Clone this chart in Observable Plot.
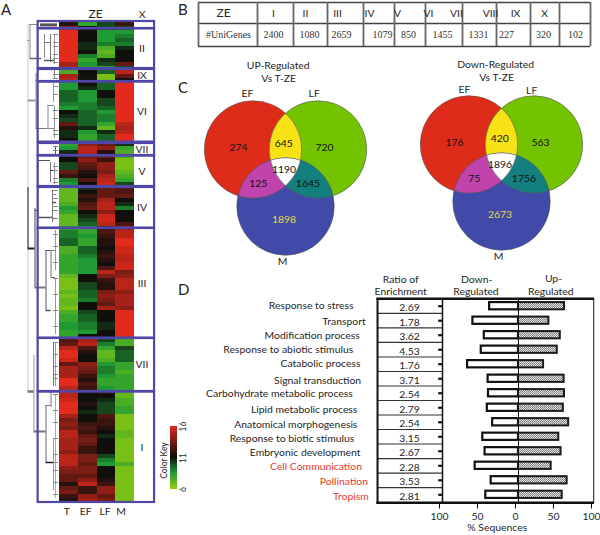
<!DOCTYPE html>
<html><head><meta charset="utf-8">
<script src="https://cdn.jsdelivr.net/npm/d3@7"></script>
<script src="https://cdn.jsdelivr.net/npm/@observablehq/plot@0.6"></script>
<style>
html,body{margin:0;padding:0;background:#fff}
#fig{position:relative;width:600px;height:535px;overflow:hidden;font-family:Lato,sans-serif}
#fig svg.plot,#fig figure{position:absolute;margin:0}
.letter{position:absolute;font-size:15px;color:#222;line-height:16px}
</style></head><body>
<svg width="0" height="0" style="position:absolute"><defs>
<pattern id="hatch" width="2" height="2" patternUnits="userSpaceOnUse">
<rect width="2" height="2" fill="#e4e4e4"/><rect width="1" height="1" fill="#777"/><rect x="1" y="1" width="1" height="1" fill="#888"/>
</pattern></defs></svg>
<div id="fig"></div>
<script>
// ---------- A: heat map (log2 expression, one value per row)
const heatColumns = ["T","EF","LF","M"];
const heatT = [11.5,14,16,16,16,16,16,16,16,16,14.5,15,7.5,14.5,15,
 8.5,8.5,9.5,9.5,9.5,9,8.5,11,10.5,10,13,11.5,10.5,10.5,11,
 8,8.5,10.5,11,11,10,10,13,12,9,8.5,
 7,7,7,7,7.5,8.5,8,7,7,7,
 8,9,9,9.5,9.5,7.5,7.5,8,8,8,8,8,7,6.5,6.5,6.5,7,6.5,7,7,6.5,7.5,8,8,8.5,8.5,8,8,
 12.5,13,15,16,16,15.5,13,14.5,14.5,14.5,16,16,15,
 15,15,15.5,16,16,16,14.5,13.5,14,13.5,15,15,14.5,14.5,14.5,14,15,15,15,14,13.5,13,13,11.5,13,13.5,12,11.5];
const heatEF = [8,11,11,11,11,10.5,10.5,11,9,8,8.5,8,11,11,11,
 11,10.5,8.5,8.5,8.5,9,9,9.5,9.5,9.5,9.5,10.5,8.5,8,8,
 14,15,15,13,14,13,12.5,11.5,11,12.5,11,
 10.5,11,12,11.5,12.5,13,11,10.5,10,9.5,
 8,8,8.5,8,8,9.5,9.5,9,8.5,8.5,8.5,8.5,11,11,10,10,9.5,9.5,9,11,11,10,9.5,9.5,9,9,8.5,11,
 14.5,15,12.5,11.5,11,11,14,13.5,13,12,11.5,12.5,12,
 11,11,11,11.5,11,10.5,11,11,12,12.5,12,13,13.5,13,12,12,13.5,13.5,13,13.5,13.5,13,14,15,12,12,14,14.5];
const heatLF = [10,10,8.5,8.5,8.5,9,7.5,7,7.5,10.5,10,8,9.5,6.5,6.5,
 9.5,9.5,11,11,10,10,9.5,8.5,9,9,8,7,10.5,9.5,9.5,
 13,14,11.5,13,12,14,14,13.5,14.5,15,15.5,
 13,13,13,14.5,15,15,14,15.5,15.5,15,
 12,12.5,12,11.5,11.5,11,11.5,12,11.5,11,12.5,15,13.5,12,11.5,11.5,13.5,14,13.5,13,14.5,11,11,11,10.5,10.5,11,11,
 10,9,8,7,7,7.5,8.5,9,9,8.5,8,8,8.5,
 11.5,11,10.5,10,10,10,12.5,12,12,11.5,11,10.5,11,11,11,11,10,9,8.5,11,11,11,11.5,12,14,14,13,13.5];
const heatM = [12,10,8.5,9,9.5,9,10.5,11,11,11,13,10,15,13,11,
 16,16,16,16,16,16,16,16,16,16,15,14.5,15,16,16,
 10.5,8,7.5,7.5,6.5,6.5,6.5,7,7.5,8,10,
 12.5,12.5,13,11,10.5,9,11,11,11,12.5,
 14,15,15,16,16,15.5,15.5,15,15,15.5,15.5,13.5,14,15,15,15,14,14.5,14.5,14.5,14,16,16,16,16,16,16,16,
 7.5,7.5,10,9.5,9.5,9.5,8,8,7.5,8,8,8,8,
 7,7,7.5,7.5,8,8,6.5,6.5,6.5,6.5,7,7,6.5,6.5,6.5,6.5,6.5,6.5,7.5,6.5,6.5,6.5,6.5,6.5,6.5,6.5,6.5,6.5];
const clusterNames = ["","II","IX","VI","VII","V","IV","III","VII","I"];
const clusterTop = [-0.25,1.6,11.75,14.9,30.25,33.4,41.25,51.5,79,92.4];
const clusterBottom = [1.5,11.5,14.75,29.9,33.25,41,51.4,78.9,92.25,120];
// dendrogram: [merge height, first row, last row, shade]
const dendroJoins = [[31.5,0.5,92.25,"#ccc"],[31.5,41.25,56.5,"#222"],[29.5,0.5,9,"#888"],[23.5,12.75,26.5,"#888"],
 [11.5,20.75,26.5,"#888"],[24.5,46.5,66.25,"#444"],[13.5,57,72,"#555"],[8.5,57,63.75,"#777"],[25.5,83.25,102.25,"#999"],
 [13.5,95.75,110,"#666"],[8.5,92.5,96.25,"#777"],[21.5,34.5,48.75,"#666"],[15,3,9,"#888"],[9,3,10,"#777"],[5,3,10.5,"#999"],
 [5,12,14,"#888"],[6,15,20,"#999"],[5,21,29,"#999"],[4,31,33,"#555"],[9,35,40,"#777"],[5,35,40.5,"#999"],[7,42,50,"#777"],
 [4,52,62,"#999"],[4,64,78,"#999"],[6,80,91,"#777"],[4,80,91,"#999"],[4,93,119,"#aaa"],[6,104,117,"#999"]];
// dendrogram branches: [height from, height to, row, shade, weight]
const dendroBranches = [[31.5,29.5,4.5,"#888",1],[29.5,21,0.5,"#888",1],[29.5,18,9,"#666",1.5],[31.5,23.5,19.5,"#999",2],
 [23.5,13,14.5,"#777",1],[23.5,11.5,26.5,"#777",1],[11.5,5,20.75,"#888",1],[11.5,5,26.5,"#888",1],[31.5,24.5,56.5,"#222",2],
 [24.5,21.5,47,"#555",1],[24.5,13.5,66.25,"#777",2],[13.5,8.5,57,"#555",1],[13.5,8.5,72,"#555",1.5],[8.5,4,57,"#777",1],[8.5,4,63.75,"#777",1],
 [31.5,25.5,92.25,"#777",2.5],[25.5,13.5,102.25,"#777",2],[13.5,8.5,95.75,"#777",1],[13.5,6,110,"#222",1.5],[21.5,9,34.5,"#555",1],[21.5,7,48.75,"#555",1.5],
 [15,9,5,"#777",1],[15,5,9.5,"#555",1.5],[7,3,43,"#888",1],[9,5,37,"#333",1],[7,3,45,"#555",1.5],[7,3,49,"#888",1.5],[19,2,0.6,"#555",3]];
const dendroLeaves = [3,5,6,8,9,10,13,14,16,18,22,24,27,28,31,32,33,36,37,39,40,42,44,46,47,49,53,56,60,64,68,72,76,80,83,86,88,89,93,97,100,104,108,110,112,115,118];
const colourDomain = [6,8.5,11,16];
const colourRange = ["#8fca0e","#1f9a35","#100f0c","#e32a1c"];
const colourKeyTicks = [6,11,16];
// ---------- B: table
const tableHeaders = ["ZE","I","II","III","IV","V","VI","VII","VIII","IX","X"];
const tableHeaderX = [223,273,305,337,369,397,428,456,490,515,544];
const uniGenes = ["#UniGenes","2400","1080","2659","1079","850","1455","1331","227","320","102"];
const uniGenesX = [228,273,309,341,382,408,442,478,506,543,575];
const tableEdges = [198,257,293,327,363,394,425,462,496,530,559,590];
// ---------- C: Venn counts, in order EF, EF&LF, LF, all, EF&M, LF&M, M
const vennUp = [274,645,720,1190,125,1645,1898];
const vennDown = [176,420,563,1896,75,1756,2673];
const regionX = [-0.965,-0.035,0.8,-0.03,-0.56,0.46,-0.03];
const regionY = [-0.04,-0.125,-0.035,0.405,0.705,0.705,1.44];
// ---------- D: GO categories
const goTerms = ["Response to stress","Transport","Modification process","Response to abiotic stimulus","Catabolic process","Signal transduction","Carbohydrate metabolic process","Lipid metabolic process","Anatomical morphogenesis","Response to biotic stimulus","Embryonic development","Cell Communication","Pollination","Tropism"];
const goRatio = ["2.69","1.78","3.62","4.53","1.76","3.71","2.54","2.79","2.54","3.15","2.67","2.28","3.53","2.81"];
const goDown = [38,60,45,49,67,40,39.5,41,34,47,44,57,36,43];
const goUp = [60.5,40,55,51,33,60,60.5,59,66,53,56,43,64,57.5];
const goLabelEnd = [-217,-201,-209,-217.5,-208,-207,-218,-212,-212,-216,-208,-206,-198,-197];
const goLabelRow = [-0.05,1.06,2.05,3.01,3.98,5.1,6.05,7.13,8.16,9.13,10.07,11.03,12.09,13.13];
const axisTicks = [-100,-50,0,50,100];

const INK = "#262626", FONT = 'Lato,sans-serif', TXT = 10.4;
const fig = document.getElementById("fig");
function place(svg,left,top){svg.style.position="absolute";svg.style.left=left+"px";svg.style.top=top+"px";svg.style.background="transparent";svg.style.maxWidth="none";fig.appendChild(svg);return svg;}
function letter(t,x,y){const d=document.createElement("div");d.className="letter";d.textContent=t;d.style.left=x+"px";d.style.top=y+"px";fig.appendChild(d);}

// ===== Panel A
const heatSeries = [heatT,heatEF,heatLF,heatM];
const cells = heatSeries.flatMap((s,c)=>s.map((v,r)=>({c,r,v})));
const clusters = clusterNames.map((n,i)=>({n,top:clusterTop[i],bottom:clusterBottom[i]}));
const colLabelAt = [0.39,1.39,2.43,3.29];
const BOX = "#4f47a8";
place(Plot.plot({
  width:195,height:535,margin:0,
  style:{fontFamily:FONT,background:"transparent"},
  x:{domain:[0,4],range:[59,134],axis:null},
  y:{domain:[0,120],range:[22,502],axis:null},
  color:{type:"linear",domain:colourDomain,range:colourRange},
  marks:[
    Plot.rect(cells,{x1:d=>d.c,x2:d=>d.c+1,y1:d=>d.r,y2:d=>d.r+1,fill:"v",shapeRendering:"crispEdges"}),
    Plot.ruleX(dendroJoins,{x:d=>-d[0]/18.75,y1:d=>d[1],y2:d=>d[2],stroke:d=>d[3],strokeWidth:1}),
    Plot.ruleY(dendroBranches,{y:d=>d[2],x1:d=>-d[0]/18.75,x2:d=>-d[1]/18.75,stroke:d=>d[3],strokeWidth:d=>d[4]}),
    Plot.ruleY(dendroLeaves,{y:d=>d,x1:-6/18.75,x2:-1/18.75,stroke:"#888",strokeWidth:1}),
    Plot.rect(clusters,{x1:-1.14,x2:5.07,y1:"top",y2:"bottom",stroke:BOX,fill:"none",strokeWidth:2.2}),
    Plot.text(clusters.filter(d=>d.n),{x:4.4,y:d=>(d.top+d.bottom)/2,text:"n",fontSize:TXT,fill:INK}),
    Plot.text(heatColumns,{x:(d,i)=>colLabelAt[i],y:122.25,text:d=>d,fontSize:TXT,fill:INK}),
    Plot.text(["ZE"],{x:1.92,y:-2,text:d=>d,fontSize:12,fill:INK}),
    Plot.text(["X"],{x:4.4,y:-2,text:d=>d,fontSize:TXT,fill:INK})
  ]
}),0,0);
letter("A",1,1);

// colour key
const keySteps = d3.range(6,16,0.25);
place(Plot.plot({
  width:50,height:85,margin:0,marginRight:23,
  style:{fontFamily:FONT,background:"transparent"},
  x:{domain:[0,1],range:[20,27],axis:null},
  y:{domain:[6,16],range:[74,11]},
  color:{type:"linear",domain:colourDomain,range:colourRange},
  marks:[
    Plot.rect(keySteps,{x1:0,x2:1,y1:d=>d,y2:d=>d+0.25,fill:d=>d,shapeRendering:"crispEdges"}),
    Plot.axisY({anchor:"right",ticks:colourKeyTicks,tickSize:0,tickPadding:8,tickRotate:-90,fontSize:8.5,label:null,fill:INK}),
    Plot.text(["Color Key"],{x:-0.86,y:10.6,text:d=>d,rotate:-90,fontSize:8.5,fill:INK})
  ]
}),150,415);

// ===== Panel B
place(Plot.plot({
  width:405,height:50,margin:0,
  style:{fontFamily:FONT,background:"transparent"},
  x:{domain:[195,600],range:[0,405],axis:null},
  y:{domain:[0,2],range:[2,46],axis:null},
  marks:[
    Plot.ruleY([0,0.955,2],{x1:198,x2:590,stroke:"#444",strokeWidth:1.3}),
    Plot.ruleX(tableEdges,{y1:0,y2:2,stroke:"#666",strokeWidth:1.8}),
    Plot.text(tableHeaders,{x:(d,i)=>tableHeaderX[i],y:0.486,text:d=>d,fontSize:(d,i)=>i?10.4:12,fill:INK}),
    Plot.text(uniGenes,{x:(d,i)=>uniGenesX[i],y:1.47,text:d=>d,fontSize:10,fill:"#333",fontFamily:'"Liberation Serif",serif'})
  ]
}),195,0);
letter("B",178,1);

// ===== Panel C
const R=48.7, circles={EF:[-0.667,0],LF:[0.667,0],M:[0,1.17]};
function lens(names){
  const pts=[];
  const inside=(p,n)=>Math.hypot(p[0]-circles[n][0],p[1]-circles[n][1])<=1.0005;
  for(const n of names) for(let a=0;a<720;a++){
    const t=a/360*Math.PI,p=[circles[n][0]+Math.cos(t),circles[n][1]+Math.sin(t)];
    if(names.every(m=>inside(p,m))) pts.push(p);
  }
  return d3.polygonHull(pts);
}
function venn(title,counts,titleAt,labelAt,cx,cy){
  const cs=Object.values(circles);
  const lensMark=(names,fill)=>Plot.line(lens(names),{x:d=>d[0],y:d=>d[1],fill,stroke:"none",curve:"linear-closed"});
  const dot=(n,fill)=>Plot.dot([circles[n]],{x:d=>d[0],y:d=>d[1],r:R,fill,stroke:"none"});
  return place(Plot.plot({
    width:200,height:224,margin:0,
    style:{fontFamily:FONT,background:"transparent"},
    x:{domain:[-100/R,100/R],range:[0,200],axis:null},
    y:{domain:[-94/R,130/R],range:[0,224],axis:null},
    marks:[
      dot("EF","#de2c1b"),dot("LF","#74c300"),dot("M","#414aa8"),
      lensMark(["EF","LF"],"#f7e216"),lensMark(["EF","M"],"#c044ac"),lensMark(["LF","M"],"#13807f"),lensMark(["EF","LF","M"],"#ffffff"),
      Plot.dot(cs,{x:d=>d[0],y:d=>d[1],r:R,fill:"none",stroke:"#555",strokeWidth:0.6}),
      Plot.text(counts,{x:(d,i)=>regionX[i],y:(d,i)=>regionY[i],text:d=>String(d),fontSize:TXT,fill:(d,i)=>i==6?"#e8d84a":"#111"}),
      Plot.text(title,{x:(d,i)=>titleAt[i][0],y:(d,i)=>titleAt[i][1],text:d=>d,fontSize:TXT,fill:INK}),
      Plot.text(["EF","LF","M"],{x:(d,i)=>labelAt[i][0],y:(d,i)=>labelAt[i][1],text:d=>d,fontSize:TXT,fill:INK})
    ]
  }),cx-100,cy-94);
}
venn(["UP-Regulated","Vs T-ZE"],vennUp,[[-0.15,-1.72],[-0.14,-1.45]],[[-0.78,-1.14],[0.59,-1.14],[-0.06,2.31]],285,149.3);
venn(["Down-Regulated","Vs T-ZE"],vennDown,[[-0.12,-1.64],[-0.1,-1.376]],[[-0.76,-1.13],[0.62,-1.11],[-0.06,2.31]],501,144);
letter("C",178,79);

// ===== Panel D
const go = goTerms.map((t,i)=>({t,i,ratio:goRatio[i],down:goDown[i],up:goUp[i],end:goLabelEnd[i],lab:goLabelRow[i]}));
const headerCols = [["Ratio of",-155,-1.85],["Enrichment",-155,-1],["Down-",-55,-1.8],["Regulated",-56,-1],["Up-",46,-1.9],["Regulated",42.5,-1.03]];
place(Plot.plot({
  width:420,height:270,margin:0,marginBottom:31.5,
  style:{fontFamily:FONT,background:"transparent"},
  x:{domain:[-100,100],range:[262,414]},
  y:{domain:[0,13],range:[40.7,229.3],axis:null},
  marks:[
    Plot.ruleY(d3.range(0,13),{y:d=>d+0.5,x1:-185.5,x2:-100,stroke:"#333",strokeWidth:1.2}),
    Plot.rect(go,{x1:d=>-d.down,x2:0,y1:d=>d.i-0.25,y2:d=>d.i+0.25,fill:"#fff",stroke:"#111",strokeWidth:2.2}),
    Plot.rect(go,{x1:0,x2:"up",y1:d=>d.i-0.25,y2:d=>d.i+0.25,fill:"url(#hatch)",stroke:"#1a1a1a",strokeWidth:2}),
    Plot.ruleX([0],{y1:-0.51,y2:13.55,stroke:"#111",strokeWidth:1}),
    Plot.ruleX([-100],{y1:-0.51,y2:13.55,stroke:"#111",strokeWidth:1.5}),
    Plot.ruleX([-185.5],{y1:-0.51,y2:13.55,stroke:"#111",strokeWidth:2}),
    Plot.ruleX([99],{y1:-0.51,y2:13.55,stroke:"#111",strokeWidth:1}),
    Plot.ruleY([-0.51,13.55],{x1:-186.5,x2:100,stroke:"#111",strokeWidth:2.6}),
    Plot.ruleY(go,{y:"i",x1:-105,x2:-100,stroke:"#111",strokeWidth:2.2}),
    Plot.text(go,{x:-143.5,y:"i",dy:1.5,text:"ratio",fontSize:TXT,fill:INK}),
    Plot.text(go.slice(0,11),{x:"end",y:"lab",text:"t",textAnchor:"end",fontSize:TXT,fill:INK}),
    Plot.text(go.slice(11),{x:"end",y:"lab",text:"t",textAnchor:"end",fontSize:TXT,fill:"#e8382c"}),
    Plot.text(headerCols,{x:d=>d[1],y:d=>d[2],text:d=>d[0],fontSize:TXT,fill:INK}),
    Plot.axisX({anchor:"bottom",ticks:axisTicks,tickFormat:Math.abs,tickSize:5,tickPadding:4,fontSize:TXT,label:null,fill:INK,dx:-3}),
    Plot.text(["% Sequences"],{x:-28,y:15.3,text:d=>d,fontSize:TXT,fill:INK})
  ]
}),180,265);
letter("D",178,281);
</script>
</body></html>
